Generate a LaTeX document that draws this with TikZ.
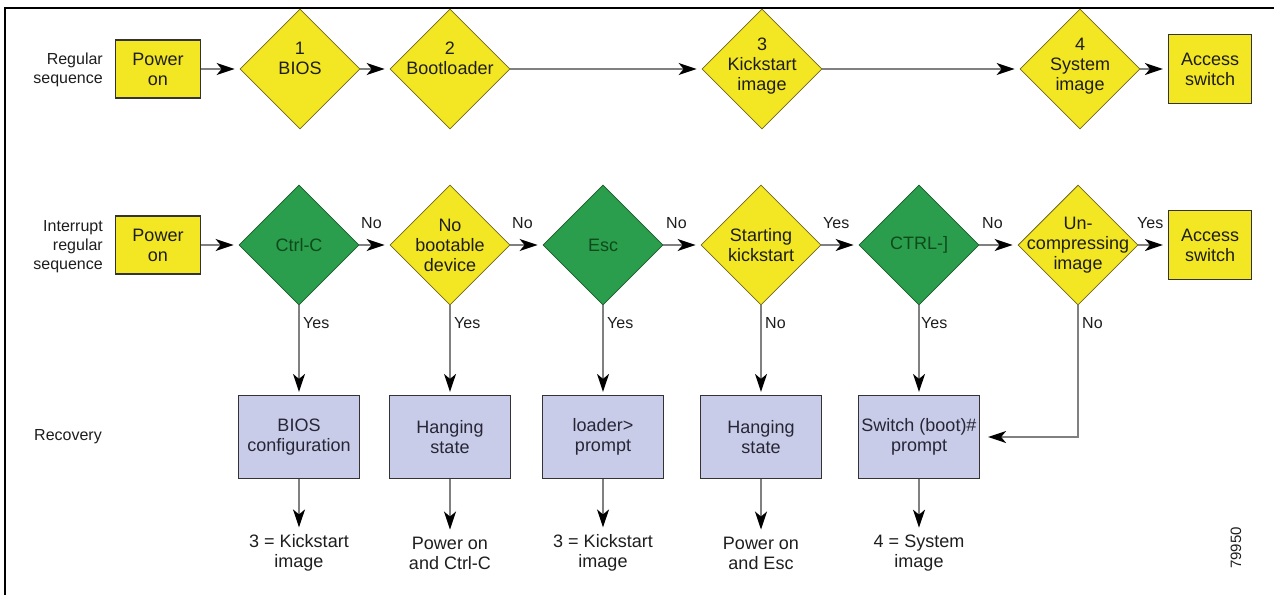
\documentclass[tikz,border=0pt]{standalone}
\usepackage{fontspec}
\setmainfont{Liberation Sans}
\usetikzlibrary{shapes.geometric,arrows.meta}
\definecolor{yel}{HTML}{F3E622}
\definecolor{grn}{HTML}{2A9E4C}
\definecolor{grnline}{HTML}{1B5A2A}
\definecolor{grntext}{HTML}{0E4A1C}
\definecolor{lav}{HTML}{C9CCE8}
\definecolor{edge}{HTML}{333333}
\definecolor{conn}{HTML}{808080}
\definecolor{yelline}{HTML}{6E6620}
\definecolor{txt}{HTML}{1E1E1E}
\definecolor{rtxt}{HTML}{262636}
\begin{document}
\begin{tikzpicture}[x=1pt,y=-1pt,
  every node/.style={font=\fontsize{18}{20}\selectfont, text=txt, align=center, inner sep=0pt},
  ybox/.style={draw=edge, line width=1.2pt, fill=yel, minimum width=85pt, minimum height=58pt},
  abox/.style={draw=edge, line width=1.2pt, fill=yel, minimum width=83pt, minimum height=69pt},
  rbox/.style={draw=edge, line width=1.2pt, fill=lav, minimum width=121pt, minimum height=83pt, text=rtxt},
  ydia/.style={diamond, draw=yelline, line width=0.8pt, fill=yel, minimum width=120pt, minimum height=120pt},
  gdia/.style={diamond, draw=grnline, line width=0.8pt, fill=grn, minimum width=120pt, minimum height=120pt},
  gtxt/.style={text=grntext},
  side/.style={font=\fontsize{16}{19}\selectfont, anchor=east, align=right},
  lbl/.style={font=\fontsize{16}{18}\selectfont},
  flow/.style={draw=conn, line width=1.5pt, -{Stealth[length=18pt,width=12pt,inset=5pt,color=black]}, shorten >=5pt},
]
\useasboundingbox (0,0) rectangle (1274,595);
\fill[white] (0,0) rectangle (1274,595);
\draw[line width=2pt, black] (5,595) -- (5,8) -- (1274,8);

% ---- regular sequence
\node[side] (lreg) at (103,70) {Regular\\sequence};
\node[ybox] (pw1) at (158,69) {Power\\on};
\node[ydia] (bios) at (300,69) {};
\node (tbios) at (300,58) {1\\BIOS};
\node[ydia] (boot) at (450,69) {};
\node (tboot) at (450,58) {2\\Bootloader};
\node[ydia] (kick) at (762,69) {};
\node (tkick) at (762,66) {3\\Kickstart\\image};
\node[ydia] (sys) at (1080,69) {};
\node (tsys) at (1080,66) {4\\System\\image};
\node[abox] (acc1) at (1210,69) {Access\\switch};

\draw[flow] (pw1) -- (bios);
\draw[flow] (bios) -- (boot);
\draw[flow] (boot) -- (kick);
\draw[flow] (kick) -- (sys);
\draw[flow] (sys) -- (acc1);

% ---- interrupt sequence
\node[side] (lint) at (103,247) {Interrupt\\regular\\sequence};
\node[ybox] (pw2) at (158,245) {Power\\on};
\node[gdia] (ctrlc) at (299,245) {};
\node[gtxt] (tctrlc) at (299,245) {Ctrl-C};
\node[ydia] (nbd) at (450,245) {};
\node (tnbd) at (450,245) {No\\bootable\\device};
\node[gdia] (esc) at (603,245) {};
\node[gtxt] (tesc) at (603,245) {Esc};
\node[ydia] (stk) at (761,245) {};
\node (tstk) at (761,245) {Starting\\kickstart};
\node[gdia] (ctrlb) at (919,245) {};
\node[gtxt] (tctrlb) at (919,245) {CTRL-]};
\node[ydia] (unc) at (1078,245) {};
\node (tunc) at (1078,245) {Un-\\compressing\\image};
\node[abox] (acc2) at (1210,245) {Access\\switch};

\draw[flow] (pw2) -- (ctrlc);
\draw[flow] (ctrlc) -- (nbd);
\draw[flow] (nbd) -- (esc);
\draw[flow] (esc) -- (stk);
\draw[flow] (stk) -- (ctrlb);
\draw[flow] (ctrlb) -- (unc);
\draw[flow] (unc) -- (acc2);

\node[lbl, anchor=west] (n1) at (361,223) {No};
\node[lbl, anchor=west] (n2) at (512,223) {No};
\node[lbl, anchor=west] (n3) at (666,223) {No};
\node[lbl, anchor=west] (n4) at (823,223) {Yes};
\node[lbl, anchor=west] (n5) at (982,223) {No};
\node[lbl, anchor=west] (n6) at (1137,223) {Yes};

% ---- recovery
\node[side] (lrec) at (102,437) {Recovery};
\node[rbox] (r1) at (299,437) {BIOS\\configuration};
\node[rbox] (r2) at (450,437) {Hanging\\state};
\node[rbox] (r3) at (603,437) {loader>\\prompt};
\node[rbox] (r4) at (761,437) {Hanging\\state};
\node[rbox] (r5) at (919,437) {Switch (boot)\#\\prompt};

\draw[flow, shorten >=3pt] (ctrlc) -- (r1);
\draw[flow, shorten >=3pt] (nbd) -- (r2);
\draw[flow, shorten >=3pt] (esc) -- (r3);
\draw[flow, shorten >=3pt] (stk) -- (r4);
\draw[flow, shorten >=3pt] (ctrlb) -- (r5);
\draw[flow, shorten >=8pt] (unc.south) |- (r5.east);

\node[lbl, anchor=west] (y1) at (303,323) {Yes};
\node[lbl, anchor=west] (y2) at (454,323) {Yes};
\node[lbl, anchor=west] (y3) at (607,323) {Yes};
\node[lbl, anchor=west] (y4) at (765,323) {No};
\node[lbl, anchor=west] (y5) at (921,323) {Yes};
\node[lbl, anchor=west] (y6) at (1082,323) {No};

% ---- outcomes
\node (b1) at (299,553) {3 = Kickstart\\image};
\node (b2) at (450,553) {Power on\\and Ctrl-C};
\node (b3) at (603,553) {3 = Kickstart\\image};
\node (b4) at (761,553) {Power on\\and Esc};
\node (b5) at (919,553) {4 = System\\image};

\draw[flow, shorten >=7pt] (r1) -- (b1);
\draw[flow, shorten >=7pt] (r2) -- (b2);
\draw[flow, shorten >=7pt] (r3) -- (b3);
\draw[flow, shorten >=7pt] (r4) -- (b4);
\draw[flow, shorten >=7pt] (r5) -- (b5);

\node[rotate=90, font=\fontsize{15}{15}\selectfont] (num) at (1236,548) {79950};
\end{tikzpicture}
\end{document}
